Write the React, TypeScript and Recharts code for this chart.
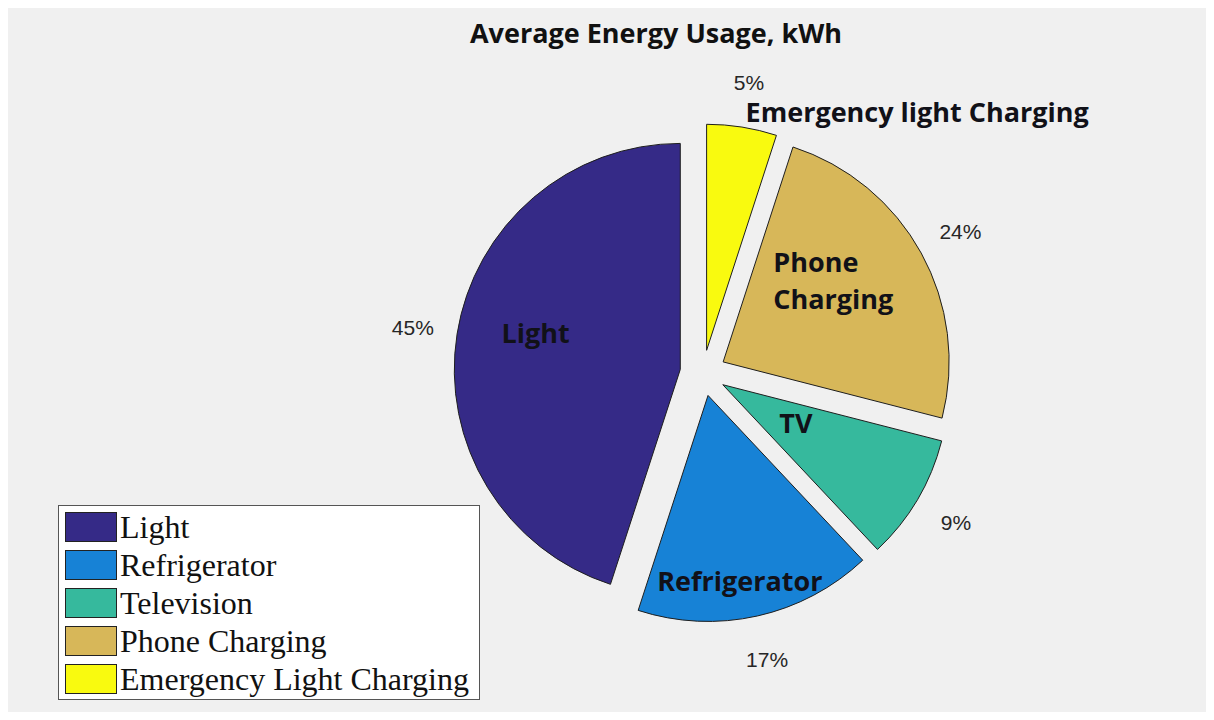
import React from 'react';
import { PieChart, Pie, Sector, Legend } from 'recharts';

const categories = ['Light', 'Refrigerator', 'Television', 'Phone Charging', 'Emergency Light Charging'];
const usage = [45, 17, 9, 24, 5];
const sliceNames = [['Light'], ['Refrigerator'], ['TV'], ['Phone', 'Charging'], ['Emergency light Charging']];
const colors = ['#352a87', '#1782d6', '#36b99d', '#d7b759', '#f9fa0f'];

// where the bold names sit: fraction of the radius, and degrees away from the slice middle
const namePlacement = [
  { r: 0.76, shift: -4, anchor: 'middle' },
  { r: 0.94, shift: -2.6, anchor: 'middle' },
  { r: 0.47, shift: 1.6, anchor: 'middle' },
  { r: 0.51, shift: 23.6, anchor: 'start' },
  { r: 1.49, shift: -30.5, anchor: 'middle' },
];

const data = categories.map((name, i) => ({ name, value: usage[i] }));

const RADIAN = Math.PI / 180;
const EXPLODE = 23;
const boldFont = '"Open Sans", Lato, sans-serif';

// exploded slice, pushed out along its middle angle
const renderSlice = (props: any) => {
  const { cx, cy, innerRadius, outerRadius, startAngle, endAngle, midAngle, index } = props;
  const dx = EXPLODE * Math.cos(-midAngle * RADIAN);
  const dy = EXPLODE * Math.sin(-midAngle * RADIAN);
  return (
    <Sector
      cx={cx + dx}
      cy={cy + dy}
      innerRadius={innerRadius}
      outerRadius={outerRadius}
      startAngle={startAngle}
      endAngle={endAngle}
      fill={colors[index]}
      stroke="#1e1e1e"
      strokeWidth={1}
    />
  );
};

const renderText = (props: any) => {
  const { cx, cy, outerRadius, midAngle, index, percent } = props;
  const pr = outerRadius * 1.3;
  const px = cx + pr * Math.cos(-midAngle * RADIAN);
  const py = cy + pr * Math.sin(-midAngle * RADIAN);
  const place = namePlacement[index];
  const a = (midAngle + place.shift) * RADIAN;
  const nx = cx + outerRadius * place.r * Math.cos(-a);
  const ny = cy + outerRadius * place.r * Math.sin(-a);
  const lines = sliceNames[index];
  const lineH = 37;
  return (
    <g>
      <text
        x={px}
        y={py}
        textAnchor="middle"
        dominantBaseline="central"
        fontFamily='"Liberation Sans", Arial, sans-serif'
        fontSize={21}
        fill="#262626"
      >
        {`${Math.round(percent * 100)}%`}
      </text>
      <text x={nx} y={ny} textAnchor={place.anchor} fontFamily={boldFont} fontWeight={700} fontSize={27} fill="#111118">
        {lines.map((l, k) => (
          <tspan key={k} x={nx} dy={k === 0 ? -((lines.length - 1) / 2) * lineH + 9 : lineH}>
            {l}
          </tspan>
        ))}
      </text>
    </g>
  );
};

const renderLegend = () => (
  <div
    style={{
      background: '#fff',
      border: '1px solid #555',
      padding: '2px 6px',
      boxSizing: 'border-box',
      width: 422,
      height: 195,
      fontFamily: '"Liberation Serif", "Times New Roman", serif',
      fontSize: 32,
      lineHeight: '38px',
      color: '#111',
    }}
  >
    {categories.map((c, i) => (
      <div key={c} style={{ display: 'flex', alignItems: 'center', height: 38, whiteSpace: 'nowrap' }}>
        <span
          style={{
            display: 'inline-block',
            width: 52,
            height: 30,
            background: colors[i],
            border: '1px solid #222',
            boxSizing: 'border-box',
            marginRight: 3,
            flex: 'none',
          }}
        />
        {c}
      </div>
    ))}
  </div>
);

export default function App() {
  return (
    <div style={{ width: 1206, height: 704, background: '#f0f0f0' }}>
      <PieChart width={1206} height={704} margin={{ top: 0, right: 0, bottom: 0, left: 0 }}>
        <text x={648} y={35} textAnchor="middle" fontFamily={boldFont} fontWeight={700} fontSize={27} fill="#111">
          Average Energy Usage, kWh
        </text>
        <Pie
          data={data}
          dataKey="value"
          nameKey="name"
          cx={695}
          cy={365}
          outerRadius={226}
          startAngle={90}
          endAngle={450}
          fill="none"
          stroke="none"
          label={renderSlice}
          labelLine={false}
          isAnimationActive={false}
        />
        <Pie
          data={data}
          dataKey="value"
          nameKey="name"
          cx={695}
          cy={365}
          outerRadius={226}
          startAngle={90}
          endAngle={450}
          fill="none"
          stroke="none"
          label={renderText}
          labelLine={false}
          isAnimationActive={false}
        />
        <Legend
          layout="vertical"
          align="center"
          verticalAlign="middle"
          content={renderLegend}
          wrapperStyle={{ left: 50, top: 497, width: 422, height: 195 }}
        />
      </PieChart>
    </div>
  );
}
